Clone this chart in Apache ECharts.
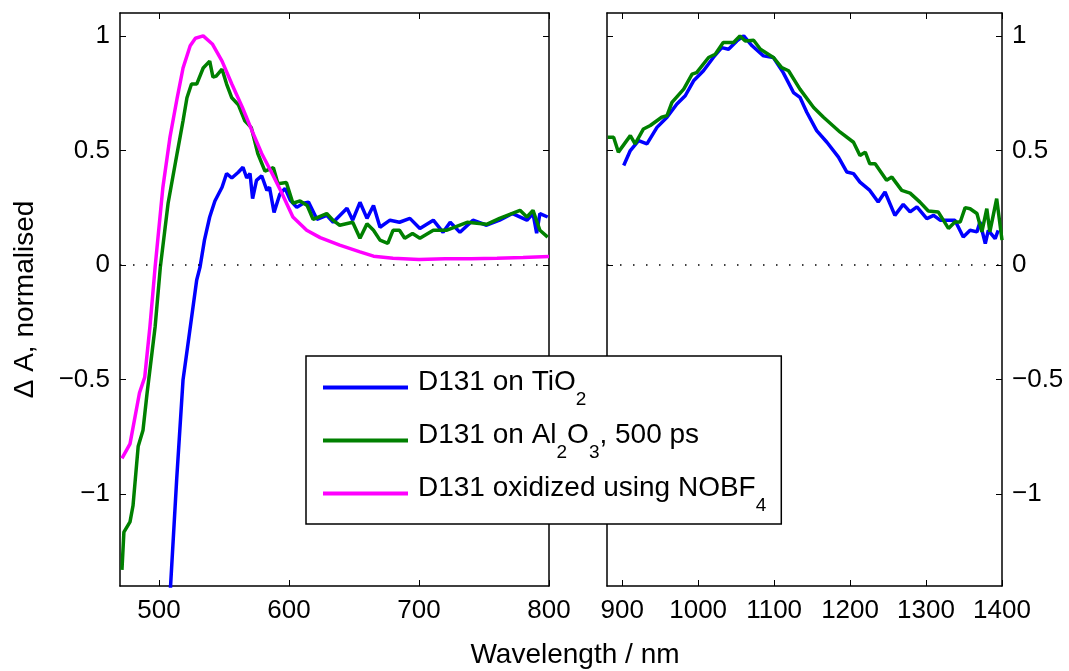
<!DOCTYPE html>
<html>
<head>
<meta charset="utf-8">
<script src="https://cdn.jsdelivr.net/npm/echarts@6/dist/echarts.min.js"></script>
<style>
  html, body { margin: 0; padding: 0; background: #fff; }
  #chart { width: 1069px; height: 671px; }
</style>
</head>
<body>
<div id="chart"></div>
<script>
// left panel (visible range), wavelength in nm
const tioVisX = [508, 509, 513.6, 518.5, 522, 529, 531.5, 535, 539, 543, 548.5, 552, 556, 561, 564.6, 567.5, 570, 572, 575, 579, 583, 585, 588.5, 593, 597, 601, 606, 611, 615, 621.5, 629, 634, 644.6, 649, 654.6, 660, 665, 670, 677.7, 685, 693, 700.7, 711, 718.5, 724, 731.5, 741.5, 752, 762, 772, 783, 787.7, 790.5, 793, 799];
const tioVisY = [-1.5, -1.39, -0.935, -0.5, -0.356, -0.065, -0.01, 0.11, 0.21, 0.28, 0.34, 0.40, 0.38, 0.405, 0.427, 0.38, 0.40, 0.29, 0.37, 0.39, 0.326, 0.34, 0.23, 0.31, 0.335, 0.283, 0.252, 0.27, 0.275, 0.2, 0.217, 0.187, 0.248, 0.196, 0.274, 0.204, 0.26, 0.165, 0.196, 0.187, 0.204, 0.16, 0.196, 0.143, 0.187, 0.143, 0.196, 0.174, 0.196, 0.225, 0.196, 0.225, 0.139, 0.225, 0.21];

const alVisX = [471.5, 473, 477.7, 480, 484, 487.7, 490.8, 497, 501, 507, 514, 518.5, 521.5, 525, 529, 534, 539, 541.5, 544, 548.5, 552, 556, 561, 566, 571, 576, 581.5, 588, 591.5, 598, 603, 608.5, 614, 618.5, 629, 634, 639, 649, 654.6, 660, 665, 670, 676, 680, 685, 689, 695, 700.7, 711, 721, 737, 752, 762, 777.7, 783, 787.7, 793, 799];
const alVisY = [-1.33, -1.165, -1.12, -1.05, -0.79, -0.72, -0.56, -0.27, -0.01, 0.27, 0.49, 0.63, 0.73, 0.79, 0.79, 0.86, 0.89, 0.82, 0.825, 0.855, 0.79, 0.73, 0.70, 0.63, 0.60, 0.487, 0.41, 0.425, 0.355, 0.36, 0.27, 0.28, 0.26, 0.2, 0.225, 0.195, 0.174, 0.187, 0.117, 0.18, 0.152, 0.109, 0.095, 0.152, 0.152, 0.117, 0.138, 0.117, 0.152, 0.152, 0.187, 0.178, 0.204, 0.239, 0.21, 0.239, 0.152, 0.122];

const oxX = [471.5, 477.7, 485, 489, 493, 497, 503, 508.5, 514, 518.5, 524, 528, 534, 541, 548.5, 556, 564, 571.5, 579, 587, 594, 603, 613.6, 624, 639, 654.6, 665, 680, 700, 720, 740, 760, 780, 800];
const oxY = [-0.843, -0.78, -0.557, -0.49, -0.27, -0.01, 0.34, 0.56, 0.73, 0.86, 0.957, 0.99, 1.0, 0.965, 0.89, 0.79, 0.69, 0.587, 0.487, 0.4, 0.32, 0.21, 0.152, 0.12, 0.087, 0.058, 0.039, 0.03, 0.025, 0.028, 0.028, 0.03, 0.033, 0.038];

// right panel (near-IR)
const tioIrX = [902, 910.7, 921.6, 932.6, 945.8, 959, 972, 983, 994, 1007, 1020, 1031, 1040, 1051, 1060, 1071, 1086, 1099, 1112, 1125.5, 1134, 1143, 1156, 1169.5, 1184.7, 1195.8, 1204.5, 1213, 1226, 1237, 1246, 1259, 1270, 1279, 1288, 1301, 1310, 1318.5, 1338, 1349, 1358, 1367, 1371, 1378, 1382, 1391, 1395];
const tioIrY = [0.435, 0.5, 0.543, 0.529, 0.601, 0.645, 0.703, 0.739, 0.804, 0.848, 0.906, 0.949, 0.942, 0.978, 1.0, 0.957, 0.913, 0.906, 0.84, 0.753, 0.732, 0.667, 0.587, 0.536, 0.471, 0.406, 0.399, 0.362, 0.326, 0.275, 0.319, 0.217, 0.265, 0.232, 0.254, 0.203, 0.217, 0.196, 0.196, 0.123, 0.152, 0.145, 0.188, 0.094, 0.152, 0.116, 0.152];

const alIrX = [881, 888.7, 895, 910.7, 917, 928, 937, 952, 959, 965.5, 981, 992, 998, 1013.7, 1022.5, 1033, 1046.6, 1055, 1062, 1073, 1082, 1099, 1110, 1119, 1134, 1152, 1165, 1187, 1204.5, 1213, 1220, 1226, 1233, 1248, 1255, 1268, 1279, 1292, 1303, 1316, 1329.5, 1338, 1345, 1351.5, 1358, 1367, 1373.5, 1380, 1384, 1393, 1400];
const alIrY = [0.558, 0.558, 0.493, 0.565, 0.529, 0.594, 0.609, 0.645, 0.652, 0.71, 0.768, 0.833, 0.84, 0.906, 0.92, 0.971, 0.971, 1.0, 0.978, 0.981, 0.942, 0.906, 0.862, 0.848, 0.768, 0.688, 0.645, 0.58, 0.536, 0.478, 0.493, 0.442, 0.442, 0.37, 0.384, 0.326, 0.314, 0.275, 0.236, 0.232, 0.16, 0.188, 0.188, 0.251, 0.246, 0.225, 0.145, 0.246, 0.145, 0.29, 0.109];

const seriesNames = ['D131 on TiO2', 'D131 on Al2O3, 500 ps', 'D131 oxidized using NOBF4'];
const legendLabels = ['D131 on TiO{sub|2}', 'D131 on Al{sub|2}O{sub|3}, 500 ps', 'D131 oxidized using NOBF{sub|4}'];
const colors = ['#0000ff', '#008000', '#ff00ff'];

const leftTicks = [500, 600, 700, 800];
const rightTicks = [900, 1000, 1100, 1200, 1300, 1400];
const yTicks = [-1, -0.5, 0, 0.5, 1];

const zip = (xs, ys) => xs.map((x, i) => [x, ys[i]]);
const FONT = "'Liberation Sans', Arial, sans-serif";

const chart = echarts.init(document.getElementById('chart'));

function xAx(gridIndex, min, max, ticks, showLabel, position) {
    return {
        type: 'value', gridIndex, min, max, position,
        axisLine: { show: true, onZero: false, lineStyle: { color: '#000', width: 1.5 } },
        axisTick: { show: true, inside: true, length: 6, customValues: ticks, lineStyle: { color: '#000', width: 1 } },
        axisLabel: { show: showLabel, customValues: ticks, formatter: v => String(v), margin: 12, color: '#000', fontSize: 26, fontFamily: FONT },
        splitLine: { show: false }
    };
}
const yFmt = v => (v < 0 ? '\u2212' + Math.abs(v) : String(v));
function yAx(gridIndex, showLabel, position, extra) {
    return Object.assign({
        type: 'value', gridIndex, min: -1.4, max: 1.1, position,
        axisLine: { show: true, onZero: false, lineStyle: { color: '#000', width: 1.5 } },
        axisTick: { show: true, inside: true, length: 6, customValues: yTicks, lineStyle: { color: '#000', width: 1 } },
        axisLabel: { show: showLabel, customValues: yTicks, formatter: yFmt, margin: 10, color: '#000', fontSize: 26, fontFamily: FONT },
        splitLine: { show: false }
    }, extra || {});
}

function line(name, data, color, xi, yi, zero) {
    const s = {
        name, type: 'line', data, xAxisIndex: xi, yAxisIndex: yi,
        symbol: 'none', showSymbol: false, clip: true,
        lineStyle: { color, width: 3.5 }, itemStyle: { color }
    };
    if (zero) {
        s.markLine = {
            silent: true, symbol: 'none', label: { show: false }, animation: false,
            lineStyle: { color: '#000', type: [1.5, 11.5], width: 1.5 },
            data: [{ yAxis: 0 }]
        };
    }
    return s;
}

chart.setOption({
    animation: false,
    backgroundColor: '#fff',
    grid: [
        { left: 120, top: 13, width: 429, height: 573 },
        { left: 607, top: 13, width: 395, height: 573 }
    ],
    xAxis: [
        xAx(0, 470, 800, leftTicks, true, 'bottom'),
        xAx(0, 470, 800, leftTicks, false, 'top'),
        xAx(1, 880, 1400, rightTicks, true, 'bottom'),
        xAx(1, 880, 1400, rightTicks, false, 'top')
    ],
    yAxis: [
        yAx(0, true, 'left', {
            name: '\u0394 A, normalised', nameLocation: 'middle', nameRotate: 90, nameGap: 81,
            nameTextStyle: { color: '#000', fontSize: 28, fontFamily: FONT }
        }),
        yAx(0, false, 'right'),
        yAx(1, false, 'left'),
        yAx(1, true, 'right')
    ],
    legend: {
        data: seriesNames,
        orient: 'vertical',
        left: 306, top: 356,
        padding: [0, 15, 9, 17],
        itemGap: 0,
        itemWidth: 90, itemHeight: 14,
        icon: 'path://M0,0L90,0L90,0.01L0,0.01ZM0,10L85,10L85,14L0,14Z',
        itemStyle: { borderWidth: 0 },
        backgroundColor: '#fff',
        borderColor: '#000', borderWidth: 1.5, borderRadius: 0,
        selectedMode: false,
        formatter: name => legendLabels[seriesNames.indexOf(name)],
        textStyle: {
            color: '#000', fontSize: 28, fontFamily: FONT, lineHeight: 53,
            rich: { sub: { fontSize: 19, lineHeight: 19, verticalAlign: 'bottom', fontFamily: FONT, color: '#000' } }
        }
    },
    graphic: [{
        type: 'text',
        style: { text: 'Wavelength / nm', x: 575, y: 655, textAlign: 'center', textVerticalAlign: 'middle', font: "28px 'Liberation Sans', Arial, sans-serif", fill: '#000' }
    }],
    series: [
        line(seriesNames[0], zip(tioVisX, tioVisY), colors[0], 0, 0, true),
        line(seriesNames[1], zip(alVisX, alVisY), colors[1], 0, 0, false),
        line(seriesNames[2], zip(oxX, oxY), colors[2], 0, 0, false),
        line(seriesNames[0], zip(tioIrX, tioIrY), colors[0], 2, 3, true),
        line(seriesNames[1], zip(alIrX, alIrY), colors[1], 2, 3, false)
    ]
});
window.addEventListener('resize', () => chart.resize());
</script>
</body>
</html>
